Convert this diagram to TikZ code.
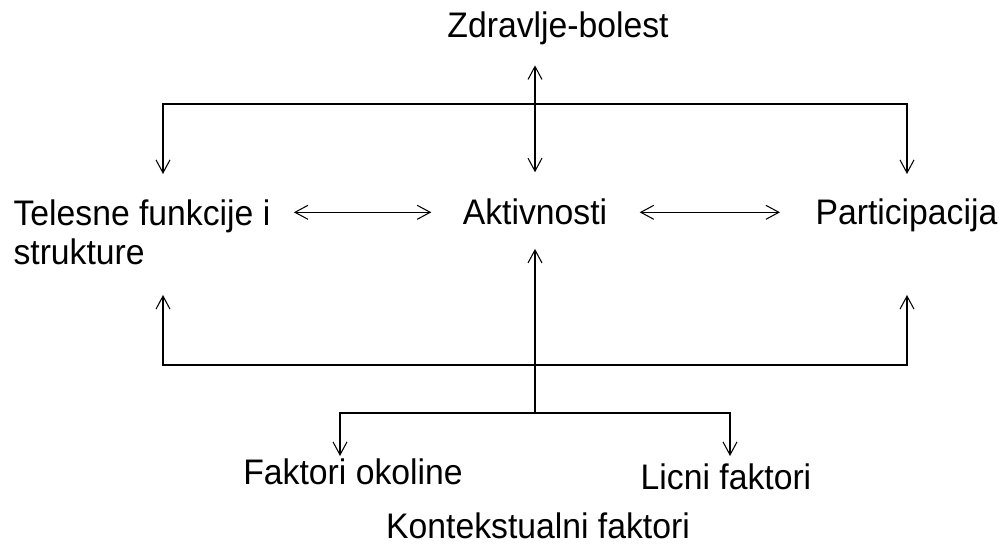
\documentclass[tikz,border=0pt]{standalone}
\usepackage{fontspec}
\setmainfont{Liberation Sans}[FakeStretch=0.95]
\usetikzlibrary{arrows.meta}

\begin{document}
\begin{tikzpicture}[>={Straight Barb[length=2.6mm,width=2.8mm]}, line width=0.6pt,
  every node/.style={inner sep=0pt, font=\fontsize{20.2}{22.7}\selectfont}]
 \useasboundingbox (0,0) rectangle (20.06,-10.98);
 \draw (11.16,-0.76) node[anchor=base] (zdravlje) {Zdravlje-bolest};
 \draw (10.7,-4.5) node[anchor=base] (aktivnosti) {Aktivnosti};
 \draw (0.26,-5.3) node[anchor=base west, align=left] (telesne) {Telesne funkcije i\\strukture};
 \draw (16.3,-4.5) node[anchor=base west] (participacija) {Participacija};
   \draw (7.06,-9.7) node[anchor=base] (okolina) {Faktori okoline};
   \draw (14.52,-9.8) node[anchor=base] (licni) {Licni faktori};
 \draw (10.76,-10.76) node[anchor=base] (kontekst) {Kontekstualni faktori};

 \coordinate (tl) at (3.26,-3.48);
 \coordinate (tr) at (18.14,-3.48);
 \coordinate (bl) at (3.26,-5.9);
 \coordinate (br) at (18.14,-5.9);
 \coordinate (kf) at (10.7,-8.26);
 \coordinate (fo) at (6.8,-9.12);
 \coordinate (lf) at (14.6,-9.12);

 \draw[<->] ([yshift=0.53cm]aktivnosti.north) -- ([yshift=-0.39cm]aktivnosti.north |- zdravlje.south);
 \draw[<->] ([xshift=0.46cm]aktivnosti.west -| telesne.east) -- ([xshift=-0.62cm]aktivnosti.west);
 \draw[<->] ([xshift=0.64cm]aktivnosti.east) -- ([xshift=-0.7cm]aktivnosti.east -| participacija.west);
 \draw[<->] (tl) -- ++(0,1.4) -| (tr);
 \draw[<->] (bl) -- ++(0,-1.4) -| (br);
 \draw[->] (kf) -- ([yshift=-0.46cm]aktivnosti.south);
 \draw[<->] (fo) |- (kf) -| (lf);

\end{tikzpicture}
\end{document}
